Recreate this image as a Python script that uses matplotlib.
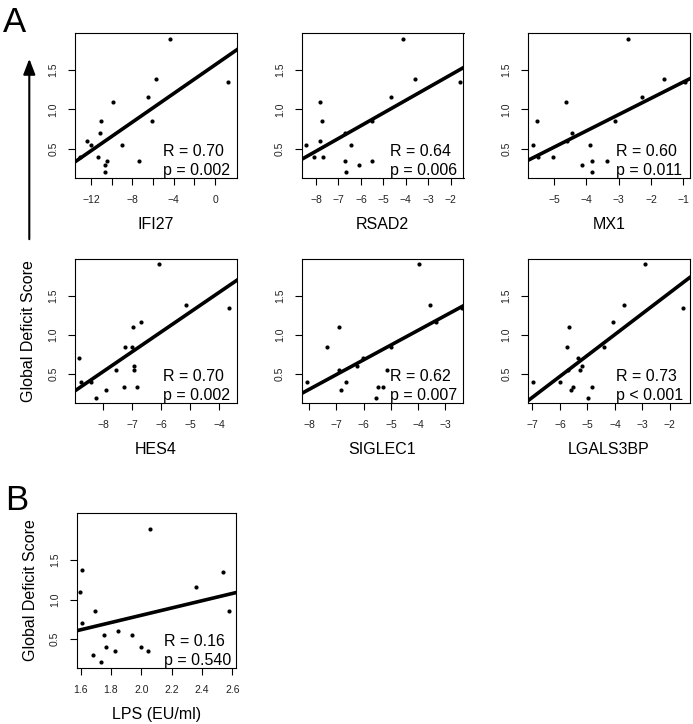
import matplotlib
matplotlib.use("Agg")
import matplotlib.pyplot as plt
import numpy as np
from matplotlib.patches import FancyArrowPatch

plt.rcParams['font.family'] = ['Liberation Sans', 'DejaVu Sans']

# global deficit score, one value per subject (same order in every panel)
gds = [1.90, 1.38, 1.35, 1.16, 1.10, 0.85, 0.85, 0.70, 0.60, 0.55, 0.55,
       0.40, 0.40, 0.34, 0.34, 0.30, 0.20]

ifi27 = [-4.32, -5.70, 1.28, -6.46, -9.82, -6.11, -10.98, -11.10, -12.42, -11.97,
         -9.02, -13.02, -11.36, -10.46, -7.39, -10.62, -10.66]
rsad2 = [-4.12, -3.57, -1.59, -4.64, -7.83, -7.73, -5.50, -6.71, -7.82, -8.43,
         -6.46, -8.11, -7.67, -6.71, -5.52, -6.10, -6.65]
mx1 = [-2.71, -1.60, -0.95, -2.29, -4.64, -5.53, -3.11, -4.44, -4.60, -5.67,
       -3.90, -5.49, -5.02, -3.84, -3.36, -4.14, -3.84]
hes4 = [-6.06, -5.13, -3.64, -6.69, -6.99, -7.24, -7.02, -8.85, -6.94, -7.56,
        -6.94, -8.78, -8.43, -7.29, -6.83, -7.90, -8.24]
siglec1 = [-3.97, -3.58, -2.39, -3.34, -6.91, -7.33, -4.99, -6.03, -6.24, -6.89,
           -5.13, -8.09, -6.65, -5.46, -5.30, -6.84, -5.56]
lgals3bp = [-2.90, -3.68, -1.51, -4.07, -5.67, -5.73, -4.38, -5.35, -5.21, -5.28,
            -5.70, -6.99, -5.98, -5.51, -4.85, -5.59, -4.99]
lps = [2.055, 1.607, 2.538, 2.358, 1.596, 1.692, 2.580, 1.611, 1.844, 1.756,
       1.936, 1.767, 2.000, 1.824, 2.042, 1.681, 1.736]

genes = ['IFI27', 'RSAD2', 'MX1', 'HES4', 'SIGLEC1', 'LGALS3BP', 'LPS (EU/ml)']
xvals = [ifi27, rsad2, mx1, hes4, siglec1, lgals3bp, lps]
r_text = ['R = 0.70', 'R = 0.64', 'R = 0.60', 'R = 0.70', 'R = 0.62', 'R = 0.73', 'R = 0.16']
p_text = ['p = 0.002', 'p = 0.006', 'p = 0.011', 'p = 0.002', 'p = 0.007', 'p < 0.001', 'p = 0.540']

xlims = [(-13.54, 2.12), (-8.65, -1.42), (-5.81, -0.79), (-8.98, -3.38),
         (-8.28, -2.34), (-7.16, -1.27), (1.574, 2.624)]
xticks = [np.arange(-12, 1, 2), np.arange(-8, -1), np.arange(-5, 0), np.arange(-8, -3),
          np.arange(-8, -2), np.arange(-7, -1), np.arange(1.6, 2.61, 0.2)]
ylims = [(0.13, 1.97)] * 6 + [(0.13, 2.10)]

W, H = 693, 724
fig = plt.figure(figsize=(W / 100, H / 100), dpi=100)

# axes boxes in pixels: left, top, right, bottom
lefts = [75, 301.5, 528]
boxes = [(l, 33, l + 162, 178) for l in lefts] + \
        [(l, 259, l + 162, 403) for l in lefts] + \
        [(76.7, 513, 236, 668)]

for i, (name, xv) in enumerate(zip(genes, xvals)):
    l, t, r, b = boxes[i]
    ax = fig.add_axes([l / W, 1 - b / H, (r - l) / W, (b - t) / H])
    x = np.array(xv)
    y = np.array(gds)
    ax.scatter(x, y, s=9, color='black', linewidths=0, zorder=3)
    m, c = np.polyfit(x, y, 1)
    ax.axline((0, c), slope=m, color='black', lw=2.6, zorder=2)
    ax.set_xlim(*xlims[i])
    ax.set_ylim(*ylims[i])

    ax.set_xticks(xticks[i])
    if i == 0:
        labs = ['\u221212', '', '\u22128', '', '\u22124', '', '0']
    elif i == 6:
        labs = ['%.1f' % v for v in xticks[i]]
    else:
        labs = ['\u2212%d' % abs(v) for v in xticks[i]]
    ax.set_xticklabels(labs)
    ax.set_yticks([0.5, 1.0, 1.5])
    ax.set_yticklabels(['0.5', '1.0', '1.5'], rotation=90, va='center')
    ax.tick_params(length=5, width=0.8, labelsize=7.5, labelcolor='#222', pad=7)
    for sp in ax.spines.values():
        sp.set_linewidth(0.8)

    ax.set_xlabel(name, fontsize=11.5, labelpad=9)
    if i in (3, 6):
        ax.set_ylabel('Global Deficit Score', fontsize=11.5, labelpad=9)

    ax.text(0.545, 0.0, r_text[i] + '\n' + p_text[i], transform=ax.transAxes,
            ha='left', va='bottom', multialignment='left', fontsize=11.5,
            linespacing=1.3)

# panel letters and arrow
fig.text(3 / W, 1 - 32 / H, 'A', fontsize=25, va='baseline', ha='left')
fig.text(5 / W, 1 - 510 / H, 'B', fontsize=25, va='baseline', ha='left')
arrow = FancyArrowPatch((29.3 / W, 1 - 242 / H), (29.3 / W, 1 - 56 / H),
                        transform=fig.transFigure, color='black', lw=1.5,
                        arrowstyle='-|>,head_length=0.94,head_width=0.36',
                        mutation_scale=10)
fig.add_artist(arrow)

fig.savefig('out.png', dpi=100)
